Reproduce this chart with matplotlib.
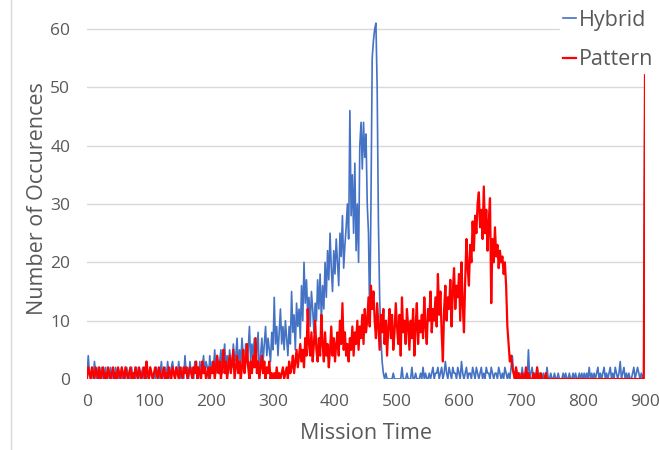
import matplotlib
matplotlib.use('Agg')
import matplotlib.pyplot as plt
from matplotlib.lines import Line2D
import numpy as np

# mission time sampled every 2 units, 0..900
mission_time = list(range(0, 902, 2))

hybrid = [
    0, 4, 1, 0, 2, 0, 3, 1, 0, 2,
    1, 0, 2, 0, 1, 2, 0, 1, 0, 2,
    0, 1, 0, 2, 1, 0, 1, 0, 2, 0,
    1, 0, 2, 1, 0, 1, 2, 0, 1, 0,
    2, 0, 1, 0, 1, 2, 0, 1, 0, 1,
    0, 2, 1, 0, 1, 0, 2, 1, 0, 1,
    3, 0, 1, 2, 0, 3, 1, 0, 2, 3,
    1, 0, 2, 1, 3, 0, 2, 1, 0, 4,
    1, 2, 0, 3, 1, 2, 0, 3, 1, 2,
    0, 3, 1, 2, 4, 1, 3, 2, 0, 4,
    1, 3, 2, 5, 1, 4, 2, 3, 5, 1,
    3, 6, 2, 4, 1, 5, 3, 2, 6, 3,
    4, 7, 2, 5, 3, 7, 4, 2, 6, 3,
    5, 9, 3, 6, 4, 7, 2, 5, 8, 0,
    4, 7, 3, 6, 9, 4, 7, 5, 3, 8,
    5, 14, 6, 9, 4, 8, 12, 6, 9, 5,
    10, 7, 4, 9, 6, 15, 8, 11, 5, 13,
    9, 12, 7, 16, 10, 20, 13, 17, 11, 14,
    9, 15, 12, 8, 13, 10, 17, 12, 18, 10,
    16, 12, 20, 14, 22, 17, 25, 19, 15, 22,
    18, 24, 20, 16, 25, 21, 28, 19, 23, 26,
    30, 24, 46, 28, 35, 25, 37, 22, 30, 20,
    40, 44, 36, 44, 38, 42, 30, 25, 10, 30,
    55, 58, 60, 61, 50, 27, 14, 7, 3, 1,
    0, 1, 0, 0, 0, 0, 0, 1, 0, 0,
    0, 0, 0, 0, 2, 0, 0, 0, 1, 0,
    0, 0, 2, 0, 0, 1, 0, 0, 0, 1,
    0, 2, 0, 1, 0, 0, 1, 0, 1, 2,
    0, 1, 1, 2, 0, 1, 2, 0, 1, 3,
    1, 0, 2, 1, 0, 2, 1, 1, 0, 2,
    1, 0, 3, 1, 0, 1, 2, 0, 1, 1,
    0, 2, 1, 0, 2, 1, 0, 1, 2, 0,
    1, 0, 2, 1, 1, 0, 2, 1, 0, 1,
    1, 0, 2, 1, 0, 1, 0, 2, 1, 0,
    1, 0, 2, 4, 1, 0, 2, 1, 0, 1,
    0, 2, 0, 1, 0, 0, 5, 0, 1, 2,
    0, 1, 0, 2, 0, 1, 0, 0, 1, 0,
    0, 2, 0, 0, 1, 0, 0, 1, 0, 0,
    1, 0, 0, 0, 1, 0, 1, 0, 0, 1,
    0, 0, 1, 0, 1, 0, 0, 1, 0, 1,
    0, 1, 0, 1, 0, 2, 0, 1, 0, 1,
    0, 1, 2, 0, 1, 0, 1, 2, 0, 1,
    0, 1, 2, 0, 1, 0, 2, 1, 0, 1,
    3, 0, 1, 2, 0, 1, 0, 1, 0, 0,
    1, 2, 0, 1, 2, 1, 0, 1, 0, 1,
    52,
]

pattern = [
    0, 2, 1, 0, 2, 1, 0, 2, 1, 0,
    2, 0, 1, 2, 0, 1, 0, 2, 1, 0,
    1, 2, 0, 1, 0, 2, 1, 0, 2, 1,
    0, 2, 1, 0, 1, 2, 0, 1, 0, 2,
    1, 0, 2, 1, 0, 1, 2, 0, 3, 1,
    0, 2, 1, 0, 1, 2, 1, 0, 2, 1,
    0, 1, 2, 0, 1, 0, 2, 1, 0, 2,
    1, 0, 2, 1, 0, 2, 1, 0, 2, 1,
    2, 0, 1, 2, 1, 0, 2, 1, 3, 0,
    2, 1, 0, 3, 1, 2, 0, 1, 2, 0,
    2, 1, 3, 0, 2, 4, 1, 3, 0, 2,
    5, 1, 3, 0, 2, 4, 1, 3, 5, 0,
    2, 4, 1, 3, 0, 2, 5, 1, 3, 6,
    2, 0, 3, 1, 4, 2, 7, 1, 3, 0,
    2, 4, 1, 3, 0, 2, 1, 3, 0, 1,
    0, 1, 0, 2, 0, 1, 0, 1, 2, 0,
    1, 2, 0, 3, 1, 2, 4, 1, 3, 5,
    2, 4, 6, 3, 5, 2, 7, 4, 12, 6,
    4, 8, 3, 6, 10, 5, 3, 7, 4, 11,
    6, 3, 8, 4, 6, 2, 5, 9, 4, 7,
    3, 6, 8, 4, 10, 6, 13, 5, 8, 4,
    6, 3, 7, 5, 9, 4, 8, 6, 10, 5,
    9, 7, 11, 6, 12, 8, 10, 14, 9, 16,
    12, 15, 10, 7, 13, 9, 5, 11, 8, 12,
    6, 10, 4, 9, 12, 7, 11, 5, 8, 13,
    9, 6, 11, 4, 14, 8, 10, 6, 12, 9,
    5, 10, 7, 12, 4, 9, 13, 6, 10, 8,
    11, 7, 14, 9, 6, 12, 10, 15, 8, 12,
    10, 14, 9, 18, 11, 15, 8, 3, 12, 16,
    10, 14, 12, 17, 9, 15, 19, 12, 16, 14,
    18, 10, 20, 13, 8, 17, 24, 19, 16, 23,
    20, 27, 22, 28, 25, 30, 32, 26, 29, 24,
    33, 25, 29, 22, 27, 31, 13, 24, 20, 26,
    21, 23, 19, 22, 20, 21, 18, 20, 16, 9,
    6, 3, 4, 2, 1, 0, 2, 0, 1, 0,
    0, 1, 0, 0, 2, 0, 1, 0, 0, 0,
    1, 0, 0, 2, 0, 0, 1, 0, 0, 0,
    1, 0, 0, 0, 0, 0, 0, 0, 0, 0,
    0, 0, 0, 0, 0, 0, 0, 0, 0, 0,
    0, 0, 0, 0, 0, 0, 0, 0, 0, 0,
    0, 0, 0, 0, 0, 0, 0, 0, 0, 0,
    0, 0, 0, 0, 0, 0, 0, 0, 0, 0,
    0, 0, 0, 0, 0, 0, 0, 0, 0, 0,
    0, 0, 0, 0, 0, 0, 0, 0, 0, 0,
    0, 0, 0, 0, 0, 0, 0, 0, 0, 0,
    52.5,
]

x_ticks = list(range(0, 1000, 100))
y_ticks = list(range(0, 70, 10))

text_color = '#595959'
grid_color = '#D9D9D9'
plt.rcParams['font.family'] = ['Open Sans', 'DejaVu Sans']

fig = plt.figure(figsize=(6.59, 4.5), dpi=100)
ax = fig.add_axes([87/659, 1 - 379/450, (645 - 87)/659, (379 - 17.3)/450])

ax.plot(mission_time, hybrid, color='#4472C4', lw=1.2, label='Hybrid',
        solid_joinstyle='round', zorder=3)
ax.plot(mission_time, pattern, color='#FF0000', lw=1.6, label='Pattern',
        solid_joinstyle='round', zorder=4)

ax.set_xlim(0, 900)
ax.set_ylim(0, 62)
ax.set_xticks(x_ticks)
ax.set_yticks(y_ticks)
ax.tick_params(axis='both', length=0, labelsize=12.5, colors=text_color)
ax.tick_params(axis='y', pad=12)
ax.tick_params(axis='x', pad=11)
for s in ax.spines.values():
    s.set_visible(False)
ax.yaxis.grid(True, color=grid_color, lw=1)
ax.set_axisbelow(True)

ax.set_xlabel('Mission Time', fontsize=15.5, color=text_color, labelpad=9)
ax.set_ylabel('Number of Occurences', fontsize=15.5, color=text_color, labelpad=2)

leg = ax.legend(loc='upper right', bbox_to_anchor=(1.0, 0.99),
                bbox_transform=fig.transFigure, fontsize=15.5,
                handlelength=0.6, handletextpad=0.15, labelspacing=0.85,
                borderpad=0.15, borderaxespad=0.1, frameon=True, fancybox=False)
leg.get_frame().set_edgecolor('white')
leg.get_frame().set_facecolor('white')
leg.get_frame().set_alpha(1)
for t in leg.get_texts():
    t.set_color(text_color)

# light border line on the left of the chart area
fig.add_artist(Line2D([11/659, 11/659], [0, 1], color=grid_color, lw=1,
                      transform=fig.transFigure))

fig.savefig('out.png', dpi=100)
